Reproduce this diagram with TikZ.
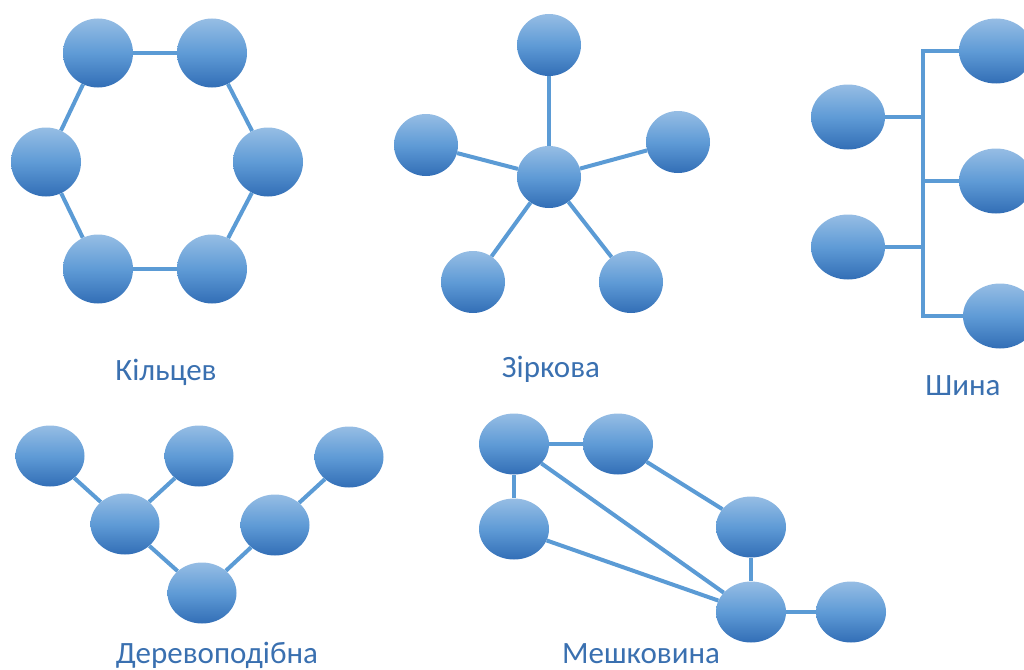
\documentclass[tikz,border=0pt]{standalone}
\usepackage{fontspec}
\setmainfont{Carlito}
\usetikzlibrary{shapes.geometric}
\definecolor{nodetop}{RGB}{150,189,228}
\definecolor{nodemid}{RGB}{95,155,214}
\definecolor{nodebot}{RGB}{50,110,182}
\definecolor{linkblue}{RGB}{91,155,213}
\definecolor{labelblue}{RGB}{58,112,176}
\tikzset{
  pc/.style={ellipse, inner sep=0pt, draw=none,
    top color=nodetop, bottom color=nodebot, middle color=nodemid},
  ringpc/.style={pc, minimum width=70pt, minimum height=69pt},
  starpc/.style={pc, minimum width=64pt, minimum height=62pt},
  buspc/.style={pc, minimum width=74pt, minimum height=65pt},
  treepc/.style={pc, minimum width=69pt, minimum height=61pt},
  meshpc/.style={pc, minimum width=70pt, minimum height=61pt},
  link/.style={draw=linkblue, line width=4pt},
  caption/.style={anchor=base, text=labelblue, inner sep=0pt,
    font=\fontsize{31}{36}\selectfont}
}
\begin{document}
\begin{tikzpicture}[x=1pt,y=-1pt]
\useasboundingbox (0,0) rectangle (1024,669);
\clip (0,0) rectangle (1024,669);

% ring topology
\node[ringpc] (r1) at (98,53) {};
\node[ringpc] (r2) at (212,53) {};
\node[ringpc] (r3) at (268,162) {};
\node[ringpc] (r4) at (212,269) {};
\node[ringpc] (r5) at (98,269) {};
\node[ringpc] (r6) at (46,162) {};
\draw[link] (r1) -- (r2);
\draw[link] (r2) -- (r3);
\draw[link] (r3) -- (r4);
\draw[link] (r4) -- (r5);
\draw[link] (r5) -- (r6);
\draw[link] (r6) -- (r1);
\node[caption] (ringlabel) at (166,380) {Кільцев};

% star topology
\node[starpc] (s0) at (549,177) {};
\node[starpc] (s1) at (549,45) {};
\node[starpc] (s2) at (426,145) {};
\node[starpc] (s3) at (678,142) {};
\node[starpc] (s4) at (473,282) {};
\node[starpc] (s5) at (631,282) {};
\foreach \n in {s1,s2,s3,s4,s5} \draw[link] (s0) -- (\n);
\node[caption] (starlabel) at (551,377) {Зіркова};

% bus topology
\node[buspc] (bl1) at (848,117) {};
\node[buspc] (bl2) at (848,247) {};
\node[buspc] (br1) at (996,51) {};
\node[buspc] (br2) at (996,181) {};
\node[buspc] (br3) at (1000,316) {};
\coordinate (bustop) at (923,51);
\coordinate (busbot) at (923,316);
\coordinate (busmid) at (923,181);
\coordinate (tap1) at (923,117);
\coordinate (tap2) at (923,247);
\draw[link] (br1) -- (bustop) -- (busbot) -- (br3);
\draw[link] (busmid) -- (br2);
\draw[link] (bl1) -- (tap1);
\draw[link] (bl2) -- (tap2);
\node[caption] (buslabel) at (963,395) {Шина};

% tree topology
\node[treepc] (t1) at (50,456) {};
\node[treepc] (t2) at (199,456) {};
\node[treepc] (t3) at (349,457) {};
\node[treepc] (t4) at (125,524) {};
\node[treepc] (t5) at (275,525) {};
\node[treepc] (t6) at (202,593) {};
\draw[link] (t1) -- (t4);
\draw[link] (t2) -- (t4);
\draw[link] (t4) -- (t6);
\draw[link] (t6) -- (t5);
\draw[link] (t5) -- (t3);
\node[caption] (treelabel) at (217,663) {Деревоподібна};

% mesh topology
\node[meshpc] (m1) at (514,444) {};
\node[meshpc] (m2) at (618,444) {};
\node[meshpc] (m3) at (514,529) {};
\node[meshpc] (m4) at (751,527) {};
\node[meshpc] (m5) at (751,612) {};
\node[meshpc] (m6) at (851,612) {};
\draw[link] (m1) -- (m2);
\draw[link] (m1) -- (m3);
\draw[link] (m1) -- (m5);
\draw[link] (m3) -- (m5);
\draw[link] (m2) -- (m4);
\draw[link] (m4) -- (m5);
\draw[link] (m5) -- (m6);
\node[caption] (meshlabel) at (641,663) {Мешковина};
\end{tikzpicture}
\end{document}
